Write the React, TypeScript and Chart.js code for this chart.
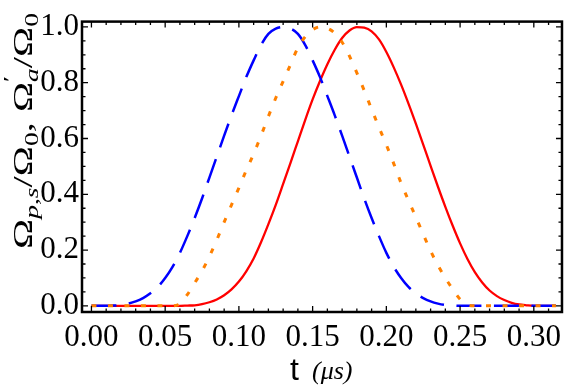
import React, { useEffect, useRef } from 'react';
import { Chart, registerables } from 'chart.js';

Chart.register(...registerables);

// time axis (μs)
const T = [
  0.000, 0.005, 0.010, 0.015, 0.020, 0.025, 0.030, 0.035, 0.040, 0.045,
  0.050, 0.055, 0.060, 0.065, 0.070, 0.075, 0.080, 0.085, 0.090, 0.095,
  0.100, 0.105, 0.110, 0.115, 0.120, 0.125, 0.130, 0.135, 0.140, 0.145,
  0.150, 0.155, 0.160, 0.165, 0.170, 0.175, 0.180, 0.185, 0.190, 0.195,
  0.200, 0.205, 0.210, 0.215, 0.220, 0.225, 0.230, 0.235, 0.240, 0.245,
  0.250, 0.255, 0.260, 0.265, 0.270, 0.275, 0.280, 0.285, 0.290, 0.295,
  0.300, 0.305, 0.310, 0.315,
];

// blue dashed curve
const BLUE = [
  0, 0, 0, 0.001, 0.003, 0.008, 0.016, 0.028, 0.045, 0.068,
  0.100, 0.140, 0.190, 0.250, 0.315, 0.385, 0.460, 0.535, 0.610, 0.683,
  0.752, 0.820, 0.880, 0.935, 0.975, 0.994, 1.000, 0.994, 0.975, 0.935,
  0.880, 0.820, 0.752, 0.683, 0.610, 0.535, 0.460, 0.385, 0.315, 0.250,
  0.190, 0.140, 0.100, 0.068, 0.045, 0.028, 0.016, 0.008, 0.003, 0.001,
  0, 0, 0, 0, 0, 0, 0, 0, 0, 0,
  0, 0, 0, 0,
];

// orange dotted curve
const ORANGE = [
  0, 0, 0, 0, 0, 0, 0, 0, 0, 0,
  0, 0, 0.008, 0.040, 0.082, 0.125, 0.177, 0.236, 0.300, 0.362,
  0.423, 0.486, 0.545, 0.610, 0.679, 0.745, 0.805, 0.865, 0.925, 0.965,
  0.990, 1.000, 0.995, 0.978, 0.945, 0.895, 0.835, 0.772, 0.705, 0.640,
  0.577, 0.510, 0.440, 0.378, 0.318, 0.257, 0.197, 0.145, 0.100, 0.060,
  0.024, 0.004, 0, 0, 0, 0, 0, 0, 0, 0,
  0, 0, 0, 0,
];

// red solid curve
const RED = [
  0, 0, 0, 0, 0, 0, 0, 0, 0, 0,
  0, 0, 0, 0.001, 0.002, 0.006, 0.013, 0.023, 0.038, 0.059,
  0.087, 0.124, 0.170, 0.228, 0.293, 0.362, 0.437, 0.513, 0.590, 0.667,
  0.740, 0.806, 0.866, 0.918, 0.960, 0.987, 0.999, 0.997, 0.984, 0.955,
  0.910, 0.855, 0.793, 0.725, 0.653, 0.578, 0.502, 0.427, 0.355, 0.287,
  0.224, 0.168, 0.121, 0.084, 0.055, 0.035, 0.021, 0.011, 0.005, 0.002,
  0, 0, 0, 0,
];

const X_TICKS = [0.0, 0.05, 0.1, 0.15, 0.2, 0.25, 0.3];
const Y_TICKS = [0.0, 0.2, 0.4, 0.6, 0.8, 1.0];

const SERIF = '"Liberation Serif", "Times New Roman", serif';

const pts = (ys: number[]) => T.map((t, i) => ({ x: t, y: ys[i] }));

const framePlugin = {
  id: 'frameTicks',
  afterDatasetsDraw(chart: any) {
    const { ctx, chartArea: a, scales } = chart;
    const x = scales.x;
    const y = scales.y;
    ctx.save();
    ctx.strokeStyle = '#000';
    ctx.lineWidth = 1.3;
    ctx.beginPath();
    for (let i = 0; i <= 31; i++) {
      const v = i * 0.01;
      const px = x.getPixelForValue(v);
      const len = i % 5 === 0 ? 6 : 3.5;
      ctx.moveTo(px, a.bottom);
      ctx.lineTo(px, a.bottom - len);
      ctx.moveTo(px, a.top);
      ctx.lineTo(px, a.top + len);
    }
    for (let i = 0; i <= 20; i++) {
      const v = i * 0.05;
      const py = y.getPixelForValue(v);
      const len = i % 4 === 0 ? 6 : 3.5;
      ctx.moveTo(a.left, py);
      ctx.lineTo(a.left + len, py);
      ctx.moveTo(a.right, py);
      ctx.lineTo(a.right - len, py);
    }
    ctx.stroke();
    ctx.lineWidth = 2.5;
    ctx.strokeRect(a.left, a.top, a.right - a.left, a.bottom - a.top);
    ctx.restore();
  },
  afterDraw(chart: any) {
    const { ctx } = chart;
    ctx.save();
    ctx.fillStyle = '#000';
    ctx.textBaseline = 'alphabetic';
    ctx.textAlign = 'left';

    // x-axis title
    ctx.font = '32px "Liberation Sans", Arial, sans-serif';
    ctx.fillText('t', 290, 380);
    ctx.font = 'italic 26px ' + SERIF;
    ctx.fillText('(μs)', 312, 379);

    // y-axis title (rotated)
    type Seg = { t: string; size: number; it?: boolean; dy: number; noAdv?: boolean };
    const segs: Seg[] = [
      { t: 'Ω', size: 28, dy: 0 },
      { t: 'p', size: 19, it: true, dy: 6 },
      { t: ',', size: 19, dy: 6 },
      { t: 's', size: 19, it: true, dy: 6 },
      { t: '/Ω', size: 28, dy: 0 },
      { t: '0', size: 19, dy: 6 },
      { t: ', Ω', size: 28, dy: 0 },
      { t: '\u2032', size: 19, dy: -15, noAdv: true },
      { t: 'a', size: 19, it: true, dy: 6 },
      { t: '/Ω', size: 28, dy: 0 },
      { t: '0', size: 19, dy: 6 },
    ];
    const fontOf = (s: Seg) => (s.it ? 'italic ' : '') + s.size + 'px ' + SERIF;
    let total = 0;
    for (const s of segs) {
      ctx.font = fontOf(s);
      if (!s.noAdv) total += ctx.measureText(s.t).width;
    }
    const target = 236;
    const k = target / total;
    ctx.translate(32, 131);
    ctx.rotate(-Math.PI / 2);
    ctx.scale(k, 1);
    let cx = -total / 2;
    for (const s of segs) {
      ctx.font = fontOf(s);
      ctx.fillText(s.t, cx, s.dy);
      if (!s.noAdv) cx += ctx.measureText(s.t).width;
    }
    ctx.restore();
  },
};

export default function App() {
  const ref = useRef<HTMLCanvasElement>(null);
  useEffect(() => {
    const chart = new Chart(ref.current as HTMLCanvasElement, {
      type: 'line',
      data: {
        datasets: [
          {
            label: 'orange',
            data: pts(ORANGE),
            borderColor: 'rgb(255,128,0)',
            borderWidth: 3,
            borderDash: [5, 11.5],
            pointRadius: 0,
            cubicInterpolationMode: 'monotone',
            fill: false,
          },
          {
            label: 'blue',
            data: pts(BLUE),
            borderColor: 'rgb(0,0,255)',
            borderWidth: 2.5,
            borderDash: [25, 12.5],
            pointRadius: 0,
            cubicInterpolationMode: 'monotone',
            fill: false,
          },
          {
            label: 'red',
            data: pts(RED),
            borderColor: 'rgb(255,0,0)',
            borderWidth: 2.3,
            pointRadius: 0,
            cubicInterpolationMode: 'monotone',
            fill: false,
          },
        ],
      },
      options: {
        responsive: false,
        animation: false,
        layout: { padding: { top: 12, right: 1, left: 0, bottom: 0 } },
        plugins: { legend: { display: false }, tooltip: { enabled: false } },
        scales: {
          x: {
            type: 'linear',
            min: -0.0064,
            max: 0.3191,
            afterBuildTicks: (s: any) => {
              s.ticks = X_TICKS.map((v) => ({ value: v }));
            },
            afterFit: (s: any) => {
              s.height = 76;
            },
            grid: { display: false, drawTicks: false },
            border: { display: false },
            ticks: {
              callback: (v: any) => Number(v).toFixed(2),
              font: { family: SERIF, size: 31 },
              color: '#000',
              maxRotation: 0,
              autoSkip: false,
              padding: 7,
            },
          },
          y: {
            type: 'linear',
            min: -0.022,
            max: 1.019,
            afterBuildTicks: (s: any) => {
              s.ticks = Y_TICKS.map((v) => ({ value: v }));
            },
            afterFit: (s: any) => {
              s.width = 82;
            },
            grid: { display: false, drawTicks: false },
            border: { display: false },
            ticks: {
              callback: (v: any) => Number(v).toFixed(1),
              font: { family: SERIF, size: 31 },
              color: '#000',
              autoSkip: false,
              padding: 3,
            },
          },
        },
      },
      plugins: [framePlugin],
    } as any);
    return () => chart.destroy();
  }, []);
  return (
    <div style={{ position: 'fixed', left: 0, top: 0, width: 568, height: 388, background: '#fff' }}>
      <canvas ref={ref} width={568} height={388} style={{ display: 'block', width: 568, height: 388 }} />
    </div>
  );
}
